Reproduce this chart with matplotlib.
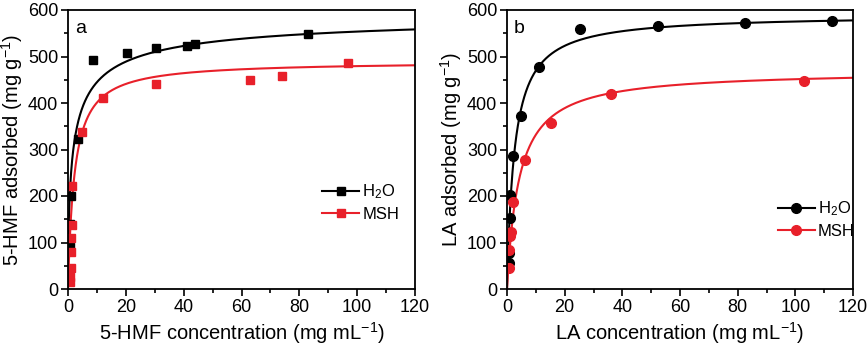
import numpy as np
import matplotlib
matplotlib.use("Agg")
import matplotlib.pyplot as plt
from matplotlib.ticker import MultipleLocator

plt.rcParams['font.family'] = ['Liberation Sans', 'DejaVu Sans']
plt.rcParams['mathtext.fontset'] = 'custom'
plt.rcParams['mathtext.rm'] = 'Liberation Sans'
plt.rcParams['mathtext.it'] = 'Liberation Sans:italic'
plt.rcParams['mathtext.bf'] = 'Liberation Sans:bold'

# =========================
# DATA
# =========================
# panel a: 5-HMF
hmf_h2o_x = [0.5, 0.6, 0.8, 1.0, 3.5, 8.5, 20.5, 30.5, 41.0, 44.0, 83.0]
hmf_h2o_y = [40, 90, 140, 200, 322, 493, 508, 519, 522, 526, 549]
hmf_msh_x = [0.8, 0.8, 1.0, 1.0, 1.2, 1.5, 1.5, 5.0, 12.0, 30.5, 63.0, 74.0, 97.0]
hmf_msh_y = [15, 25, 45, 80, 110, 138, 222, 338, 411, 440, 449, 459, 485]

# panel b: LA
la_h2o_x = [0.6, 0.8, 1.1, 1.0, 2.0, 4.9, 11.1, 25.3, 52.4, 82.7, 112.7]
la_h2o_y = [56, 77, 152, 203, 285, 373, 477, 559, 566, 571, 576]
la_msh_x = [0.8, 0.8, 1.1, 1.3, 2.2, 6.1, 15.2, 36.2, 103.0]
la_msh_y = [45, 84, 115, 123, 188, 278, 356, 419, 447]

# fitted isotherm parameters (Sips / Langmuir), read by eye
hmf_h2o_fit = dict(qm=600, K=0.546, n=0.62)
hmf_msh_fit = dict(qm=490, K=0.45, n=1.0)
la_h2o_fit = dict(qm=590, K=0.39, n=1.0)
la_msh_fit = dict(qm=470, K=0.24, n=1.0)

RED = "#e8202a"


def sips(c, qm, K, n):
    f = (K * c) ** n
    return qm * f / (1 + f)


def draw_panel(ax, h2o, msh, fits, marker, ms, letter, xlabel, ylabel, leg_anchor):
    c = np.linspace(0.001, 120, 2000)
    ax.plot(c, sips(c, **fits[0]), color="black", lw=1.5)
    ax.plot(c, sips(c, **fits[1]), color=RED, lw=1.5)
    ax.plot(h2o[0], h2o[1], ls="none", marker=marker, ms=ms, color="black")
    ax.plot(msh[0], msh[1], ls="none", marker=marker, ms=ms, color=RED)
    # legend proxies: line + marker
    h1, = ax.plot([], [], color="black", lw=1.5, marker=marker, ms=ms)
    h2, = ax.plot([], [], color=RED, lw=1.5, marker=marker, ms=ms)
    ax.legend([h1, h2], ["H$_2$O", "MSH"], loc="center left", bbox_to_anchor=leg_anchor,
              frameon=False, fontsize=12, handlelength=2.2, handletextpad=0.2,
              labelspacing=0.35)

    ax.set_xlim(0, 120)
    ax.set_ylim(0, 600)
    ax.xaxis.set_major_locator(MultipleLocator(20))
    ax.xaxis.set_minor_locator(MultipleLocator(10))
    ax.yaxis.set_major_locator(MultipleLocator(100))
    ax.yaxis.set_minor_locator(MultipleLocator(50))
    ax.tick_params(which="both", direction="out", width=1.2, labelsize=13, pad=2)
    ax.tick_params(which="major", length=5)
    ax.tick_params(which="minor", length=3)
    for s in ax.spines.values():
        s.set_linewidth(1.3)
    ax.text(0.02, 0.965, letter, transform=ax.transAxes, fontsize=14, va="top")
    ax.set_xlabel(xlabel, fontsize=14.5, labelpad=3)
    ax.set_ylabel(ylabel, fontsize=14.5, labelpad=2)


fig = plt.figure(figsize=(8.68, 3.48), dpi=100)
ax1 = fig.add_axes([68 / 868, 1 - 289 / 348, 347 / 868, 279 / 348])
ax2 = fig.add_axes([507 / 868, 1 - 289 / 348, 346 / 868, 279 / 348])

draw_panel(ax1, (hmf_h2o_x, hmf_h2o_y), (hmf_msh_x, hmf_msh_y),
           (hmf_h2o_fit, hmf_msh_fit), "s", 6, "a",
           "5-HMF concentration (mg mL$^{-1}$)", "5-HMF adsorbed (mg g$^{-1}$)",
           (0.69, 0.31))
draw_panel(ax2, (la_h2o_x, la_h2o_y), (la_msh_x, la_msh_y),
           (la_h2o_fit, la_msh_fit), "o", 7, "b",
           "LA concentration (mg mL$^{-1}$)", "LA adsorbed (mg g$^{-1}$)",
           (0.74, 0.25))

fig.savefig("out.png", dpi=100)
